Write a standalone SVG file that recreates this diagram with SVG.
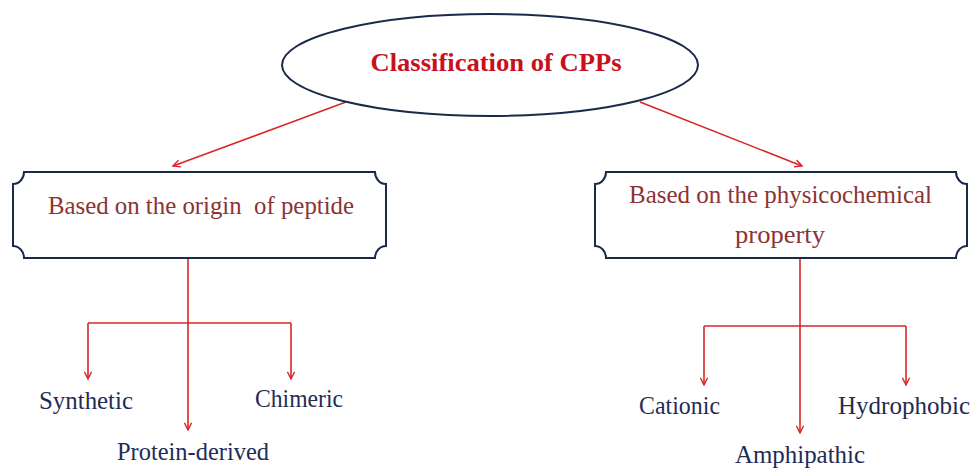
<svg xmlns="http://www.w3.org/2000/svg" width="976" height="470" viewBox="0 0 976 470">
<defs>
<style>
.box{fill:#fff;stroke:#1c2a4a;stroke-width:2}
.conn{fill:none;stroke:#d9262b;stroke-width:1.6}
.title{font-family:"Liberation Serif","Times New Roman",serif;font-weight:bold;font-size:26px;fill:#c8101e}
.cat{font-family:"Liberation Serif","Times New Roman",serif;font-size:25px;fill:#8a3434}
.leaf{font-family:"Liberation Serif","Times New Roman",serif;font-size:25px;fill:#1f2c55}
</style>
<marker id="ah" viewBox="0 0 10 10" refX="9" refY="5" markerWidth="9" markerHeight="9" orient="auto" markerUnits="userSpaceOnUse">
<path d="M1,1 L9,5 L1,9" fill="none" stroke="#d9262b" stroke-width="1.6"/>
</marker>
</defs>
<rect width="976" height="470" fill="#fff"/>
<g id="connectors">
<line class="conn" x1="346" y1="102" x2="173" y2="166" marker-end="url(#ah)"/>
<line class="conn" x1="640" y1="102" x2="802" y2="166" marker-end="url(#ah)"/>
<path class="conn" d="M188,258 V430" marker-end="url(#ah)"/>
<path class="conn" d="M88,323 H291"/>
<line class="conn" x1="88" y1="323" x2="88" y2="379" marker-end="url(#ah)"/>
<line class="conn" x1="291" y1="323" x2="291" y2="379" marker-end="url(#ah)"/>
<path class="conn" d="M800,258 V433" marker-end="url(#ah)"/>
<path class="conn" d="M704,326 H906"/>
<line class="conn" x1="704" y1="326" x2="704" y2="385" marker-end="url(#ah)"/>
<line class="conn" x1="906" y1="326" x2="906" y2="385" marker-end="url(#ah)"/>
</g>
<g id="root">
<ellipse cx="490" cy="65" rx="208" ry="51" fill="#fff" stroke="#1c2a4a" stroke-width="2"/>
<text class="title" x="496" y="71" text-anchor="middle" textLength="251" lengthAdjust="spacingAndGlyphs">Classification of CPPs</text>
</g>
<g id="origin">
<path class="box" d="M24,172 H375 A11,12 0 0 0 386,184 V246 A11,12 0 0 0 375,258 H24 A11,12 0 0 0 13,246 V184 A11,12 0 0 0 24,172 Z"/>
<text class="cat" x="48" y="214" textLength="306" lengthAdjust="spacingAndGlyphs" xml:space="preserve">Based on the origin  of peptide</text>
</g>
<g id="physico">
<path class="box" d="M606,172 H956 A11,12 0 0 0 967,184 V246 A11,12 0 0 0 956,258 H606 A11,12 0 0 0 595,246 V184 A11,12 0 0 0 606,172 Z"/>
<text class="cat" x="629" y="203" textLength="303" lengthAdjust="spacingAndGlyphs">Based on the physicochemical</text>
<text class="cat" x="735" y="243" textLength="90" lengthAdjust="spacingAndGlyphs">property</text>
</g>
<g id="synthetic"><text class="leaf" x="39" y="409" textLength="94" lengthAdjust="spacingAndGlyphs">Synthetic</text></g>
<g id="chimeric"><text class="leaf" x="255" y="407" textLength="88" lengthAdjust="spacingAndGlyphs">Chimeric</text></g>
<g id="protein"><text class="leaf" x="117" y="460" textLength="152" lengthAdjust="spacingAndGlyphs">Protein-derived</text></g>
<g id="cationic"><text class="leaf" x="639" y="414" textLength="81" lengthAdjust="spacingAndGlyphs">Cationic</text></g>
<g id="hydrophobic"><text class="leaf" x="838" y="414" textLength="132" lengthAdjust="spacingAndGlyphs">Hydrophobic</text></g>
<g id="amphipathic"><text class="leaf" x="735" y="463" textLength="130" lengthAdjust="spacingAndGlyphs">Amphipathic</text></g>
</svg>
